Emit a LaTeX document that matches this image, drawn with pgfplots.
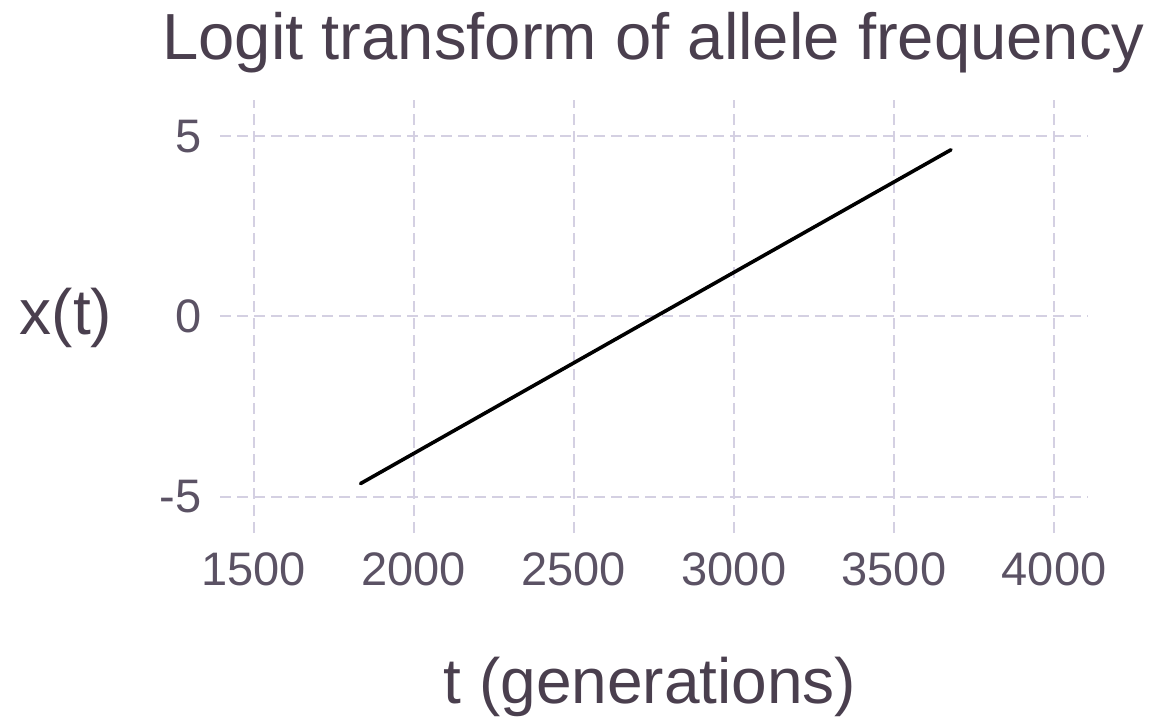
\documentclass[border=0pt]{standalone}
\usepackage{fontspec}
\setmainfont{Liberation Sans}
\usepackage{pgfplots}
\pgfplotsset{compat=1.18}
\definecolor{titlecol}{HTML}{4A3F4E}
\definecolor{tickcol}{HTML}{5B5264}
\definecolor{gridcol}{HTML}{D4D0E2}
\begin{document}
\begin{tikzpicture}
\begin{axis}[
  at={(110pt,92pt)}, anchor=south west,
  scale only axis, width=434pt, height=216.5pt,
  xmin=1395, xmax=4106, ymin=-6, ymax=6,
  axis line style={draw=none}, major tick length=0pt,
  xtick={1500,2000,2500,3000,3500,4000}, ytick={-5,0,5},
  grid=major,
  major grid style={draw=gridcol, line width=1pt, dash pattern=on 5.5pt off 3pt},
  /pgf/number format/assume math mode=true,
  /pgf/number format/1000 sep={},
  ticklabel style={font=\fontsize{23.5}{23.5}\selectfont, text=tickcol, inner sep=0pt},
  xticklabel style={anchor=base, yshift=-26pt},
  yticklabel style={anchor=east, xshift=-9pt},
  every axis title/.style={at={(rel axis cs:0,1)}, anchor=base west, inner sep=0pt,
     xshift=-29pt, yshift=20pt, font=\fontsize{32.6}{32.6}\selectfont, text=titlecol},
  every axis x label/.style={at={(rel axis cs:0.5,0)}, anchor=base, inner sep=0pt,
     xshift=-2pt, yshift=-85pt, font=\fontsize{32}{32}\selectfont, text=titlecol},
  every axis y label/.style={at={(rel axis cs:0,0.5)}, anchor=base, inner sep=0pt,
     xshift=-77pt, yshift=-9.25pt, font=\fontsize{32}{32}\selectfont, text=titlecol},
  title={Logit transform of allele frequency},
  xlabel={t (generations)},
  ylabel={x(t)},
]
\addplot[black, line width=1.8pt, line cap=round] coordinates {
  (1834,-4.63) (2756,0) (3678,4.62)
};
\end{axis}
\pgfresetboundingbox
\path (0,0) rectangle (585pt,358.5pt);
\end{tikzpicture}
\end{document}
